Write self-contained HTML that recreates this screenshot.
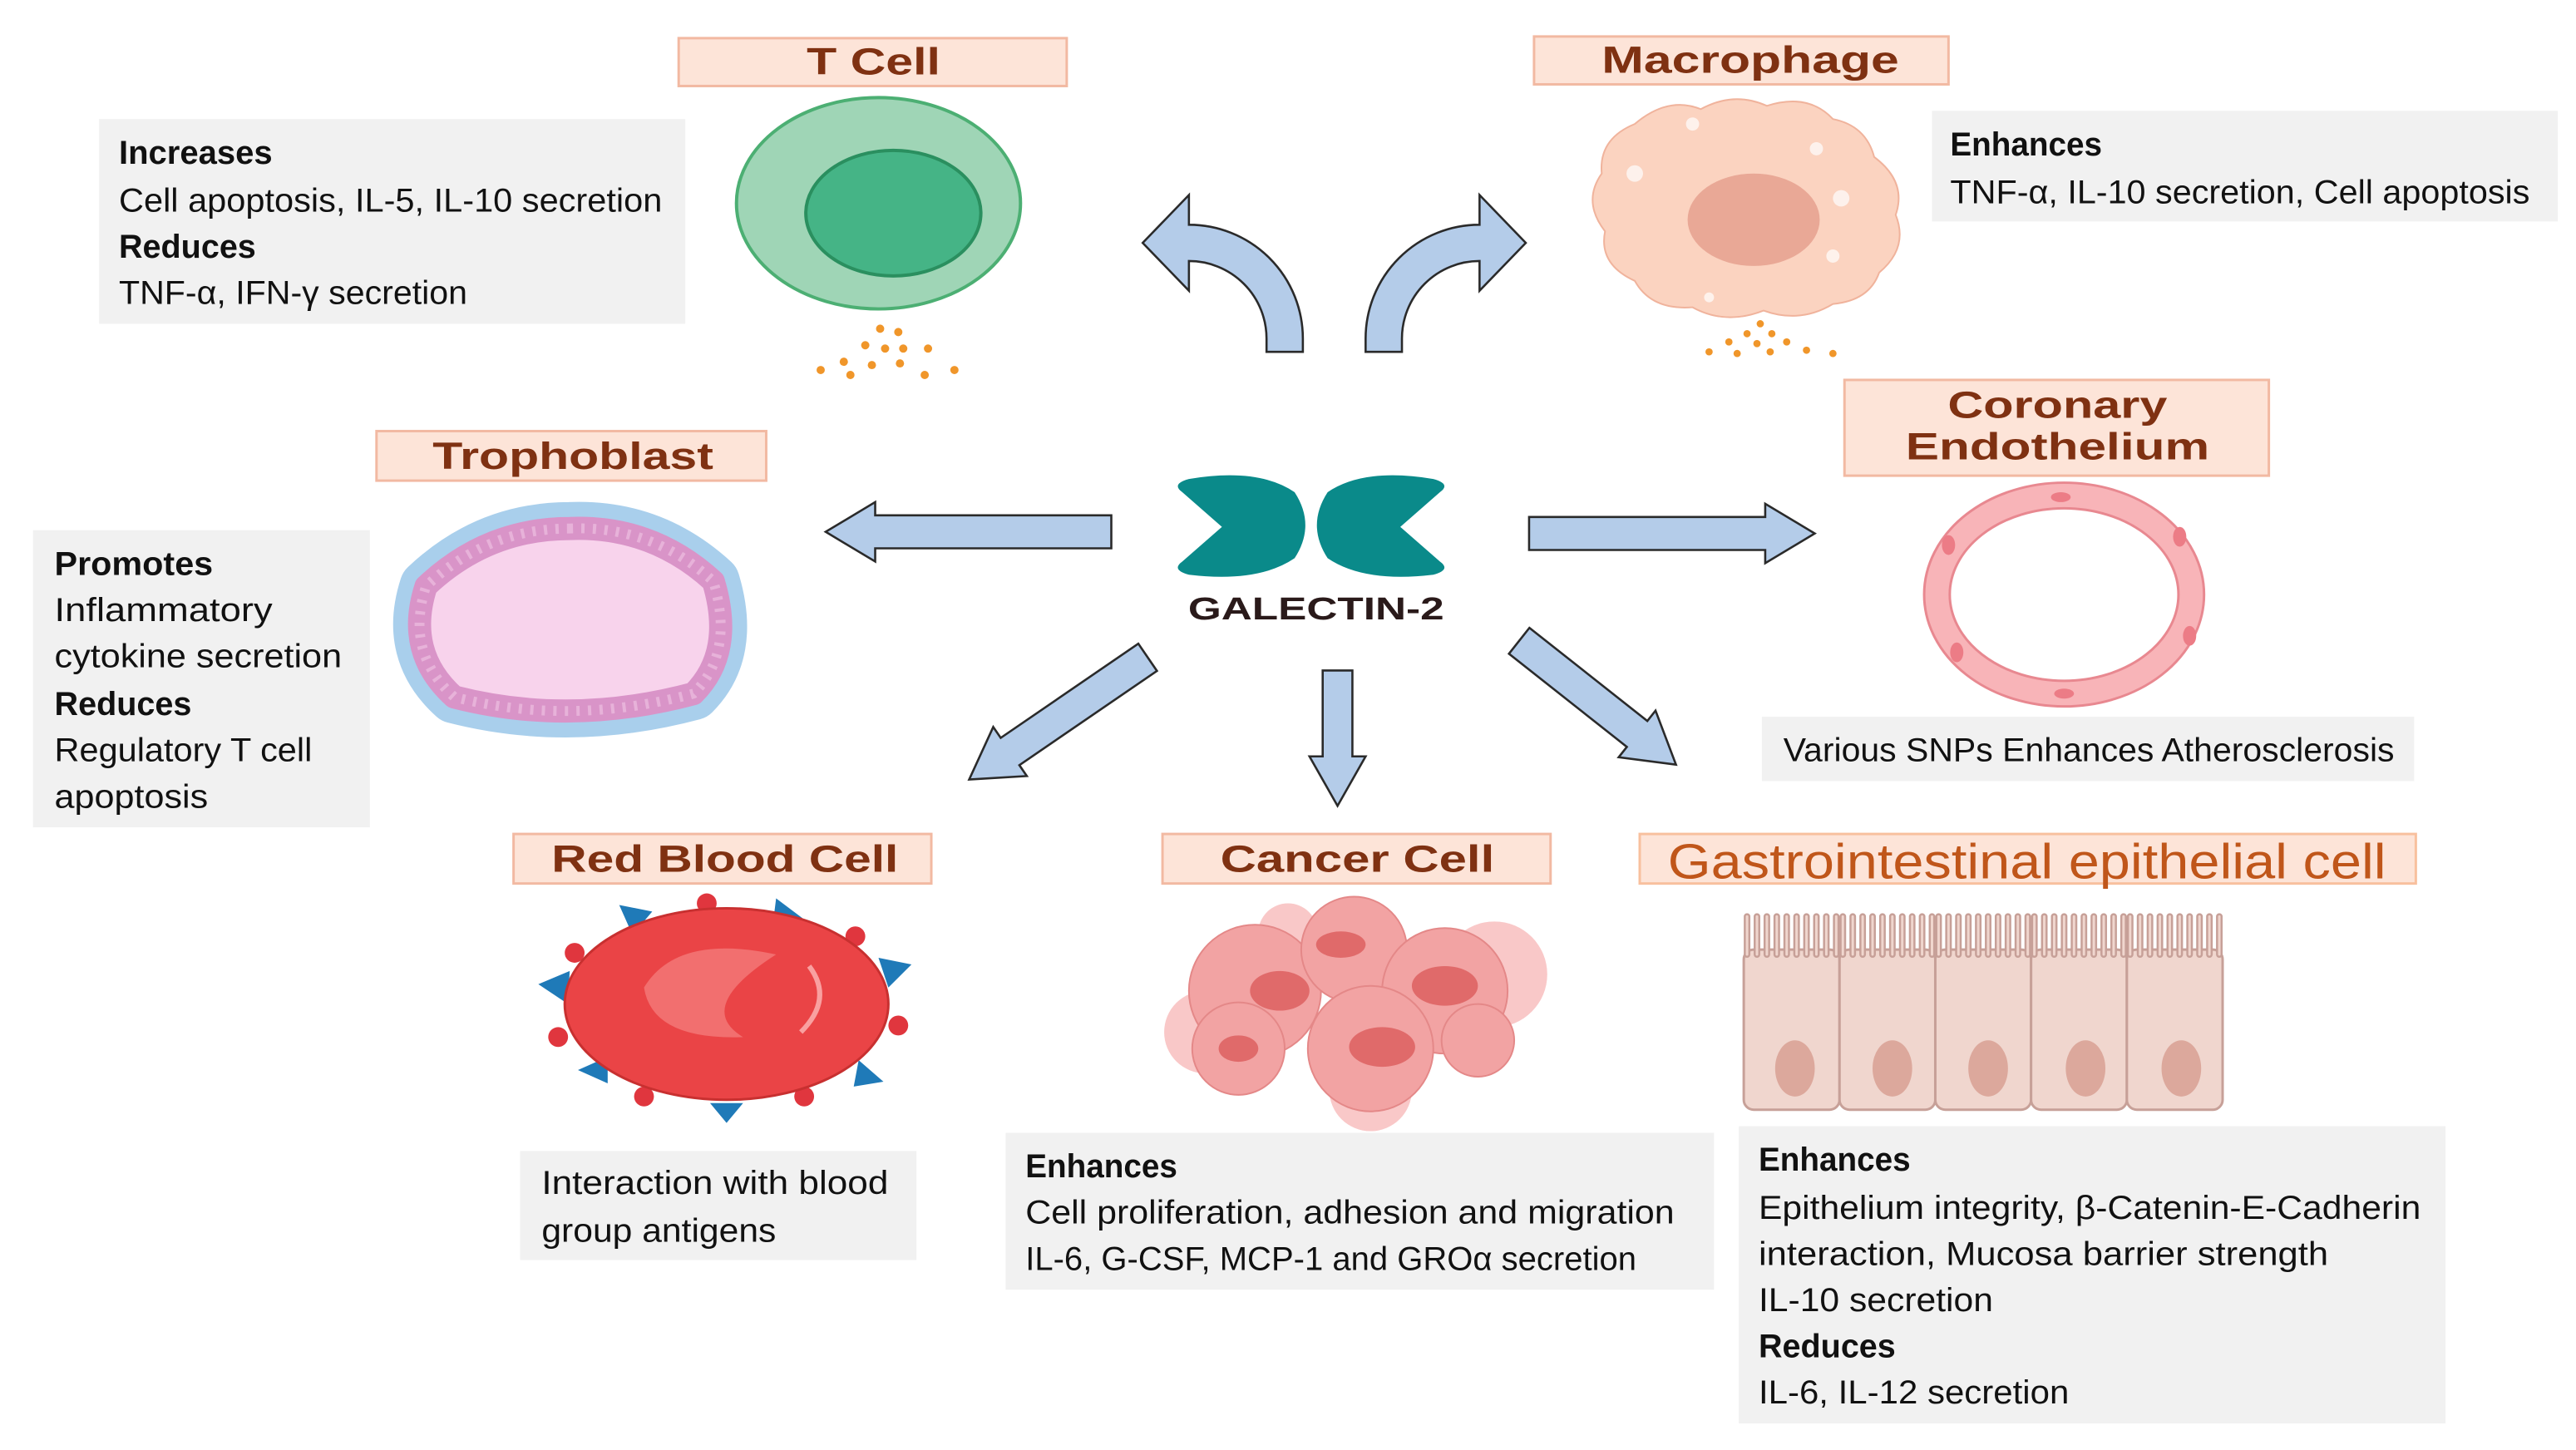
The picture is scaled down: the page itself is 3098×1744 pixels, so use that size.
<!DOCTYPE html>
<html><head><meta charset="utf-8"><style>
html,body{margin:0;padding:0;background:#fff;}
svg{display:block}
.lb{font-family:"Liberation Sans",sans-serif;font-weight:bold;font-size:23px;fill:#7f3112;text-anchor:middle}
.t{font-family:"Liberation Sans",sans-serif;font-size:20px;fill:#111}
.b{font-family:"Liberation Sans",sans-serif;font-size:20px;fill:#111;font-weight:bold}
.lab{fill:#fde4d8;stroke:#f2b9a2;stroke-width:1.5}
.box{fill:#f1f1f1}
.ar{fill:#b4cce9;stroke:#2a2a2a;stroke-width:1.3}
</style></head><body>
<svg width="3098" height="1744" viewBox="0 0 1560 878" xmlns="http://www.w3.org/2000/svg">
<rect width="1560" height="878" fill="#fff"/>

<!-- T Cell -->
<rect class="lab" x="411" y="23" width="235" height="29"/>
<text class="lb" x="529" y="45" textLength="81" lengthAdjust="spacingAndGlyphs">T Cell</text>
<rect class="box" x="60" y="72" width="355" height="124"/>
<text class="b" x="72" y="99" textLength="93" lengthAdjust="spacingAndGlyphs">Increases</text>
<text class="t" x="72" y="128" textLength="329" lengthAdjust="spacingAndGlyphs">Cell apoptosis, IL-5, IL-10 secretion</text>
<text class="b" x="72" y="156" textLength="83" lengthAdjust="spacingAndGlyphs">Reduces</text>
<text class="t" x="72" y="184" textLength="211" lengthAdjust="spacingAndGlyphs">TNF-α, IFN-γ secretion</text>
<ellipse cx="532" cy="123" rx="86" ry="64" fill="#9fd5b6" stroke="#4caf73" stroke-width="2"/>
<ellipse cx="541" cy="129" rx="53" ry="38" fill="#45b486" stroke="#2a8f5f" stroke-width="2"/>
<g fill="#f0962a">
<circle cx="533" cy="199" r="2.5"/><circle cx="544" cy="201" r="2.5"/><circle cx="524" cy="209" r="2.5"/><circle cx="536" cy="211" r="2.5"/><circle cx="547" cy="211" r="2.5"/><circle cx="562" cy="211" r="2.5"/><circle cx="511" cy="219" r="2.5"/><circle cx="528" cy="221" r="2.5"/><circle cx="545" cy="220" r="2.5"/><circle cx="515" cy="227" r="2.5"/><circle cx="560" cy="227" r="2.5"/><circle cx="578" cy="224" r="2.5"/><circle cx="497" cy="224" r="2.5"/>
</g>

<!-- Macrophage -->
<rect class="lab" x="929" y="22" width="251" height="29"/>
<text class="lb" x="1060" y="44" textLength="180" lengthAdjust="spacingAndGlyphs">Macrophage</text>
<rect class="box" x="1170" y="67" width="379" height="67"/>
<text class="b" x="1181" y="94" textLength="92" lengthAdjust="spacingAndGlyphs">Enhances</text>
<text class="t" x="1181" y="123" textLength="351" lengthAdjust="spacingAndGlyphs">TNF-α, IL-10 secretion, Cell apoptosis</text>
<g fill="#fbd3c0" stroke="#f0b39c" stroke-width="1">
<path d="M990,75 Q1010,58 1030,66 Q1050,55 1070,64 Q1095,56 1110,72 Q1130,76 1135,95 Q1155,110 1148,130 Q1156,150 1138,165 Q1132,182 1110,184 Q1090,196 1068,188 Q1045,197 1025,186 Q1000,188 990,170 Q968,160 972,140 Q958,122 970,105 Q968,84 990,75 Z"/>
</g>
<ellipse cx="1062" cy="133" rx="40" ry="28" fill="#e9a896"/>
<g fill="#fff" opacity="0.7"><circle cx="990" cy="105" r="5"/><circle cx="1100" cy="90" r="4"/><circle cx="1115" cy="120" r="5"/><circle cx="1035" cy="180" r="3"/><circle cx="1110" cy="155" r="4"/><circle cx="1025" cy="75" r="4"/></g>
<g fill="#f0962a">
<circle cx="1066" cy="196" r="2.2"/><circle cx="1058" cy="202" r="2.2"/><circle cx="1073" cy="202" r="2.2"/><circle cx="1047" cy="207" r="2.2"/><circle cx="1064" cy="208" r="2.2"/><circle cx="1082" cy="207" r="2.2"/><circle cx="1035" cy="213" r="2.2"/><circle cx="1052" cy="214" r="2.2"/><circle cx="1072" cy="213" r="2.2"/><circle cx="1094" cy="212" r="2.2"/><circle cx="1110" cy="214" r="2.2"/>
</g>

<!-- curved arrows -->
<path class="ar" d="M789,213 L789,205 A69,69 0 0 0 720,136 L720,118 L692,147 L720,176 L720,158 A47,47 0 0 1 767,205 L767,213 Z"/>
<path class="ar" d="M827,213 L827,205 A69,69 0 0 1 896,136 L896,118 L924,147 L896,176 L896,158 A47,47 0 0 0 849,205 L849,213 Z"/>

<!-- Galectin -->
<path d="M720,290 Q762,283 784,298 Q797,318 784,338 Q762,353 720,348 Q709,345 716,340 L740,319 L716,298 Q709,293 720,290 Z" fill="#0a8a8a"/>
<path d="M868,290 Q826,283 804,298 Q791,318 804,338 Q826,353 868,348 Q879,345 872,340 L848,319 L872,298 Q879,293 868,290 Z" fill="#0a8a8a"/>
<text x="797" y="375" text-anchor="middle" font-family="Liberation Sans,sans-serif" font-weight="bold" font-size="19" fill="#2a1a1a" textLength="155" lengthAdjust="spacingAndGlyphs">GALECTIN-2</text>

<!-- straight arrows -->
<g class="ar">
<polygon transform="translate(673,322) rotate(180)" points="0,-10 143,-10 143,-18 173,0 143,18 143,10 0,10"/>
<polygon transform="translate(926,323)" points="0,-10 143,-10 143,-18 173,0 143,18 143,10 0,10"/>
<polygon transform="translate(695,398) rotate(145.6)" points="0,-10 101,-10 101,-18 131,0 101,18 101,10 0,10"/>
<polygon transform="translate(810,406) rotate(90)" points="0,-9 52,-9 52,-17 82,0 52,17 52,9 0,9"/>
<polygon transform="translate(920,388) rotate(38.3)" points="0,-10 91,-10 91,-18 121,0 91,18 91,10 0,10"/>
</g>

<!-- Trophoblast -->
<rect class="lab" x="228" y="261" width="236" height="30"/>
<text class="lb" x="347" y="284" textLength="170" lengthAdjust="spacingAndGlyphs">Trophoblast</text>
<rect class="box" x="20" y="321" width="204" height="180"/>
<text class="b" x="33" y="348" textLength="96" lengthAdjust="spacingAndGlyphs">Promotes</text>
<text class="t" x="33" y="376" textLength="132" lengthAdjust="spacingAndGlyphs">Inflammatory</text>
<text class="t" x="33" y="404" textLength="174" lengthAdjust="spacingAndGlyphs">cytokine secretion</text>
<text class="b" x="33" y="433" textLength="83" lengthAdjust="spacingAndGlyphs">Reduces</text>
<text class="t" x="33" y="461" textLength="156" lengthAdjust="spacingAndGlyphs">Regulatory T cell</text>
<text class="t" x="33" y="489" textLength="93" lengthAdjust="spacingAndGlyphs">apoptosis</text>
<g stroke-linejoin="round">
<path d="M345,320 Q395,318 432,352 Q445,395 420,420 Q345,440 275,422 Q245,395 258,355 Q295,320 345,320 Z" fill="#bcdcf0" stroke="#a9cfec" stroke-width="32"/>
<path d="M345,320 Q395,318 432,352 Q445,395 420,420 Q345,440 275,422 Q245,395 258,355 Q295,320 345,320 Z" fill="#f8d3ec" stroke="#d994c8" stroke-width="14"/>
<path d="M345,320 Q395,318 432,352 Q445,395 420,420 Q345,440 275,422 Q245,395 258,355 Q295,320 345,320 Z" fill="none" stroke="#e7b2d9" stroke-width="6" stroke-dasharray="2 5"/>
</g>

<!-- Coronary -->
<rect class="lab" x="1117" y="230" width="257" height="58"/>
<text class="lb" x="1246" y="253" textLength="133" lengthAdjust="spacingAndGlyphs">Coronary</text>
<text class="lb" x="1246" y="278" textLength="184" lengthAdjust="spacingAndGlyphs">Endothelium</text>
<ellipse cx="1250" cy="360" rx="77" ry="60" fill="none" stroke="#e88890" stroke-width="17"/>
<ellipse cx="1250" cy="360" rx="77" ry="60" fill="none" stroke="#f8b4b8" stroke-width="14"/>
<g fill="#ec7c86"><ellipse cx="1248" cy="301" rx="6" ry="3"/><ellipse cx="1320" cy="325" rx="4" ry="6"/><ellipse cx="1326" cy="385" rx="4" ry="6"/><ellipse cx="1250" cy="420" rx="6" ry="3"/><ellipse cx="1180" cy="330" rx="4" ry="6"/><ellipse cx="1185" cy="395" rx="4" ry="6"/></g>
<rect class="box" x="1067" y="434" width="395" height="39"/>
<text class="t" x="1080" y="461" textLength="370" lengthAdjust="spacingAndGlyphs">Various SNPs Enhances Atherosclerosis</text>

<!-- Red Blood Cell -->
<rect class="lab" x="311" y="505" width="253" height="30"/>
<text class="lb" x="439" y="528" textLength="210" lengthAdjust="spacingAndGlyphs">Red Blood Cell</text>
<g fill="#1f7ab8">
<polygon points="375,548 395,552 383,566"/><polygon points="470,544 486,556 468,560"/><polygon points="532,580 552,584 538,598"/><polygon points="326,596 345,588 344,608"/><polygon points="350,648 368,640 368,656"/><polygon points="520,642 535,655 517,658"/><polygon points="430,668 450,668 440,680"/>
</g>
<g fill="#e0363e">
<circle cx="428" cy="547" r="6"/><circle cx="518" cy="567" r="6"/><circle cx="348" cy="577" r="6"/><circle cx="544" cy="621" r="6"/><circle cx="338" cy="628" r="6"/><circle cx="390" cy="664" r="6"/><circle cx="487" cy="664" r="6"/>
</g>
<ellipse cx="440" cy="608" rx="98" ry="58" fill="#ea4446" stroke="#c83030" stroke-width="1.5"/>
<path d="M470,578 Q410,565 390,598 Q395,630 450,628 Q420,610 470,578 Z" fill="#f26f6f"/>
<path d="M490,585 Q505,605 485,625" fill="none" stroke="#f9a0a0" stroke-width="3"/>
<rect class="box" x="315" y="697" width="240" height="66"/>
<text class="t" x="328" y="723" textLength="210" lengthAdjust="spacingAndGlyphs">Interaction with blood</text>
<text class="t" x="328" y="752" textLength="142" lengthAdjust="spacingAndGlyphs">group antigens</text>

<!-- Cancer Cell -->
<rect class="lab" x="704" y="505" width="235" height="30"/>
<text class="lb" x="822" y="528" textLength="166" lengthAdjust="spacingAndGlyphs">Cancer Cell</text>
<g fill="#f9c8c8"><circle cx="730" cy="625" r="25"/><circle cx="905" cy="590" r="32"/><circle cx="830" cy="660" r="25"/><circle cx="780" cy="565" r="18"/></g>
<g fill="#f2a3a3" stroke="#e48888" stroke-width="1">
<circle cx="760" cy="600" r="40"/><circle cx="820" cy="575" r="32"/><circle cx="875" cy="600" r="38"/><circle cx="830" cy="635" r="38"/><circle cx="750" cy="635" r="28"/><circle cx="895" cy="630" r="22"/>
</g>
<g fill="#e06a6a"><ellipse cx="775" cy="600" rx="18" ry="12"/><ellipse cx="875" cy="597" rx="20" ry="12"/><ellipse cx="837" cy="634" rx="20" ry="12"/><ellipse cx="750" cy="635" rx="12" ry="8"/><ellipse cx="812" cy="572" rx="15" ry="8"/></g>
<rect class="box" x="609" y="686" width="429" height="95"/>
<text class="b" x="621" y="713" textLength="92" lengthAdjust="spacingAndGlyphs">Enhances</text>
<text class="t" x="621" y="741" textLength="393" lengthAdjust="spacingAndGlyphs">Cell proliferation, adhesion and migration</text>
<text class="t" x="621" y="769" textLength="370" lengthAdjust="spacingAndGlyphs">IL-6, G-CSF, MCP-1 and GROα secretion</text>

<!-- GI -->
<rect x="993" y="505" width="470" height="30" fill="#fde4d8" stroke="#f8c09e" stroke-width="1.5"/>
<text x="1010" y="532" font-family="Liberation Sans,sans-serif" font-size="30" fill="#c0561a" textLength="435" lengthAdjust="spacingAndGlyphs">Gastrointestinal epithelial cell</text>
<g fill="#f0d6ce" stroke="#c7a098" stroke-width="1.5">
<rect x="1056" y="575" width="58" height="97" rx="6"/><rect x="1114" y="575" width="58" height="97" rx="6"/><rect x="1172" y="575" width="58" height="97" rx="6"/><rect x="1230" y="575" width="58" height="97" rx="6"/><rect x="1288" y="575" width="58" height="97" rx="6"/>
</g>
<path d="M1058,578 V555 M1064,578 V555 M1070,578 V555 M1076,578 V555 M1082,578 V555 M1088,578 V555 M1094,578 V555 M1100,578 V555 M1106,578 V555 M1112,578 V555 M1116,578 V555 M1122,578 V555 M1128,578 V555 M1134,578 V555 M1140,578 V555 M1146,578 V555 M1152,578 V555 M1158,578 V555 M1164,578 V555 M1170,578 V555 M1174,578 V555 M1180,578 V555 M1186,578 V555 M1192,578 V555 M1198,578 V555 M1204,578 V555 M1210,578 V555 M1216,578 V555 M1222,578 V555 M1228,578 V555 M1232,578 V555 M1238,578 V555 M1244,578 V555 M1250,578 V555 M1256,578 V555 M1262,578 V555 M1268,578 V555 M1274,578 V555 M1280,578 V555 M1286,578 V555 M1290,578 V555 M1296,578 V555 M1302,578 V555 M1308,578 V555 M1314,578 V555 M1320,578 V555 M1326,578 V555 M1332,578 V555 M1338,578 V555 M1344,578 V555" stroke="#c7a098" stroke-width="4" stroke-linecap="round"/>
<path d="M1058,578 V555 M1064,578 V555 M1070,578 V555 M1076,578 V555 M1082,578 V555 M1088,578 V555 M1094,578 V555 M1100,578 V555 M1106,578 V555 M1112,578 V555 M1116,578 V555 M1122,578 V555 M1128,578 V555 M1134,578 V555 M1140,578 V555 M1146,578 V555 M1152,578 V555 M1158,578 V555 M1164,578 V555 M1170,578 V555 M1174,578 V555 M1180,578 V555 M1186,578 V555 M1192,578 V555 M1198,578 V555 M1204,578 V555 M1210,578 V555 M1216,578 V555 M1222,578 V555 M1228,578 V555 M1232,578 V555 M1238,578 V555 M1244,578 V555 M1250,578 V555 M1256,578 V555 M1262,578 V555 M1268,578 V555 M1274,578 V555 M1280,578 V555 M1286,578 V555 M1290,578 V555 M1296,578 V555 M1302,578 V555 M1308,578 V555 M1314,578 V555 M1320,578 V555 M1326,578 V555 M1332,578 V555 M1338,578 V555 M1344,578 V555" stroke="#f0d6ce" stroke-width="1.5" stroke-linecap="round"/>
<g fill="#dca89c"><ellipse cx="1087" cy="647" rx="12" ry="17"/><ellipse cx="1146" cy="647" rx="12" ry="17"/><ellipse cx="1204" cy="647" rx="12" ry="17"/><ellipse cx="1263" cy="647" rx="12" ry="17"/><ellipse cx="1321" cy="647" rx="12" ry="17"/></g>
<rect class="box" x="1053" y="682" width="428" height="180"/>
<text class="b" x="1065" y="709" textLength="92" lengthAdjust="spacingAndGlyphs">Enhances</text>
<text class="t" x="1065" y="738" textLength="401" lengthAdjust="spacingAndGlyphs">Epithelium integrity, β-Catenin-E-Cadherin</text>
<text class="t" x="1065" y="766" textLength="345" lengthAdjust="spacingAndGlyphs">interaction, Mucosa barrier strength</text>
<text class="t" x="1065" y="794" textLength="142" lengthAdjust="spacingAndGlyphs">IL-10 secretion</text>
<text class="b" x="1065" y="822" textLength="83" lengthAdjust="spacingAndGlyphs">Reduces</text>
<text class="t" x="1065" y="850" textLength="188" lengthAdjust="spacingAndGlyphs">IL-6, IL-12 secretion</text>
</svg>
</body></html>
